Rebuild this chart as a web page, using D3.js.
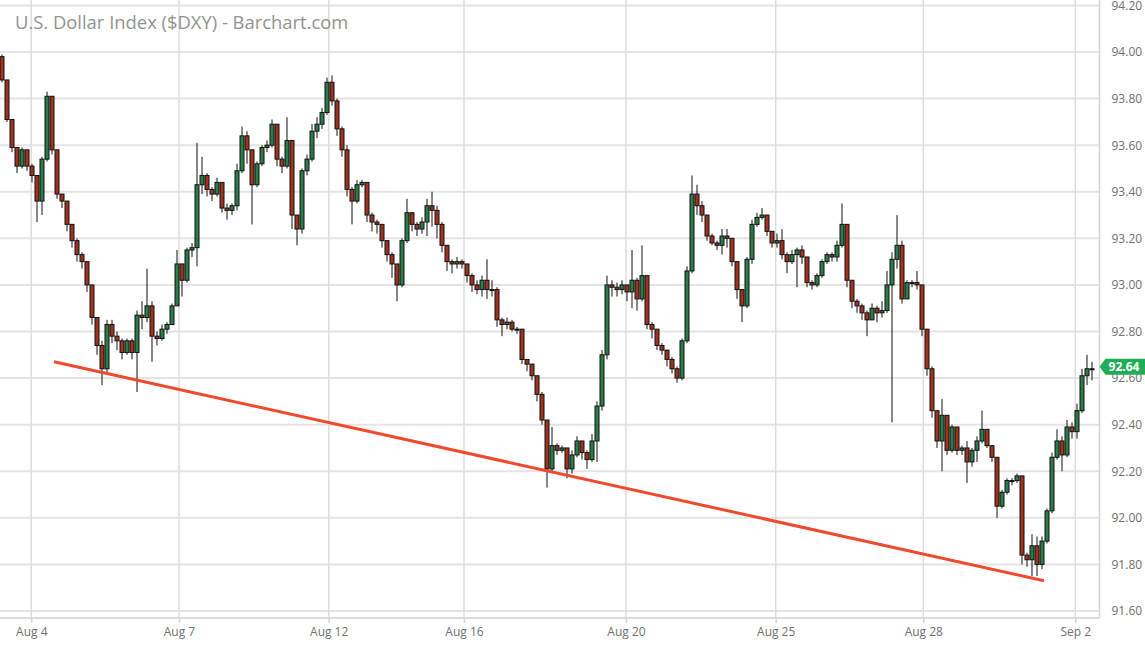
<!DOCTYPE html>
<html><head><meta charset="utf-8">
<script src="https://cdn.jsdelivr.net/npm/d3@7"></script>
<style>body{margin:0;background:#fff}svg{display:block}</style>
</head><body><svg id="c" width="1145" height="645"></svg>
<script>
const title = "U.S. Dollar Index ($DXY) - Barchart.com";
const firstOpen = 93.98;
const closes = [93.88,93.71,93.59,93.51,93.58,93.51,93.47,93.36,93.54,93.81,
93.58,93.39,93.36,93.26,93.19,93.13,93.10,93.00,92.86,92.74,
92.64,92.83,92.78,92.76,92.71,92.76,92.71,92.87,92.86,92.91,
92.78,92.77,92.81,92.83,92.91,93.09,93.02,93.15,93.16,93.43,
93.47,93.41,93.39,93.44,93.33,93.32,93.34,93.49,93.64,93.58,
93.43,93.52,93.59,93.60,93.69,93.54,93.51,93.62,93.30,93.24,
93.49,93.54,93.66,93.69,93.74,93.87,93.79,93.67,93.58,93.41,
93.36,93.43,93.44,93.30,93.27,93.26,93.19,93.13,93.09,93.00,
93.19,93.31,93.26,93.24,93.27,93.34,93.32,93.26,93.17,93.10,
93.09,93.10,93.09,93.04,93.00,92.98,93.02,92.98,92.98,92.85,
92.83,92.84,92.81,92.81,92.68,92.66,92.61,92.53,92.42,92.21,
92.31,92.29,92.30,92.21,92.27,92.33,92.28,92.25,92.33,92.48,
92.70,93.00,92.99,92.98,93.00,92.97,93.02,92.94,93.04,92.83,
92.81,92.74,92.72,92.68,92.64,92.60,92.76,93.06,93.39,93.34,
93.30,93.21,93.18,93.17,93.21,93.20,93.10,92.98,92.91,93.11,
93.26,93.29,93.30,93.23,93.18,93.19,93.13,93.10,93.13,93.15,
93.12,93.01,93.00,93.04,93.10,93.13,93.12,93.17,93.26,93.02,
92.93,92.91,92.88,92.85,92.90,92.88,92.89,93.00,93.11,93.17,
92.94,93.01,93.01,93.00,92.81,92.64,92.46,92.33,92.44,92.29,
92.39,92.29,92.30,92.24,92.29,92.33,92.38,92.31,92.26,92.05,
92.11,92.16,92.16,92.18,91.84,91.82,91.88,91.80,91.90,92.03,
92.26,92.33,92.27,92.39,92.37,92.46,92.61,92.64,92.64];
const highs = [93.99,93.88,93.71,93.57,93.59,93.58,93.52,93.46,93.55,93.83,
93.81,93.56,93.39,93.35,93.26,93.20,93.14,93.10,93.00,92.86,
92.76,92.85,92.85,92.80,92.77,92.77,92.77,92.89,92.93,93.07,
92.93,92.80,92.83,92.84,92.92,93.15,93.09,93.16,93.18,93.61,
93.55,93.48,93.42,93.46,93.44,93.35,93.35,93.52,93.68,93.66,
93.57,93.53,93.60,93.62,93.71,93.69,93.55,93.72,93.62,93.30,
93.50,93.56,93.69,93.72,93.76,93.89,93.90,93.80,93.68,93.60,
93.42,93.45,93.45,93.36,93.31,93.28,93.26,93.19,93.14,93.09,
93.20,93.37,93.31,93.27,93.29,93.37,93.40,93.34,93.27,93.17,
93.11,93.12,93.11,93.09,93.05,93.02,93.04,93.11,93.02,92.99,
92.86,92.86,92.85,92.82,92.81,92.68,92.66,92.61,92.54,92.42,
92.39,92.32,92.31,92.30,92.29,92.35,92.33,92.29,92.36,92.50,
92.72,93.04,93.02,93.01,93.02,93.00,93.15,93.03,93.17,93.04,
92.84,92.81,92.75,92.72,92.69,92.65,92.77,93.08,93.47,93.43,
93.36,93.30,93.22,93.19,93.24,93.24,93.20,93.10,92.98,93.12,
93.28,93.31,93.33,93.30,93.23,93.22,93.24,93.14,93.15,93.16,
93.17,93.12,93.02,93.05,93.11,93.14,93.14,93.19,93.35,93.26,
93.02,92.94,92.92,92.89,92.92,92.91,92.93,93.06,93.14,93.30,
93.19,93.02,93.02,93.06,93.00,92.81,92.65,92.46,92.51,92.44,
92.40,92.39,92.31,92.33,92.30,92.35,92.46,92.38,92.31,92.26,
92.12,92.17,92.17,92.19,92.18,91.85,91.93,91.92,91.92,92.04,
92.28,92.38,92.35,92.42,92.41,92.49,92.64,92.70,92.67];
const lows = [93.87,93.70,93.57,93.48,93.50,93.49,93.44,93.27,93.30,93.53,
93.56,93.37,93.33,93.23,93.16,93.10,93.07,92.97,92.83,92.70,
92.57,92.62,92.75,92.72,92.68,92.70,92.68,92.54,92.81,92.84,
92.67,92.74,92.76,92.79,92.83,92.91,92.95,93.01,93.12,93.08,
93.39,93.38,93.36,93.38,93.31,93.28,93.30,93.32,93.48,93.52,
93.26,93.42,93.51,93.57,93.59,93.51,93.48,93.50,93.24,93.17,
93.22,93.47,93.53,93.63,93.67,93.73,93.77,93.64,93.55,93.38,
93.26,93.35,93.42,93.27,93.23,93.22,93.16,93.10,93.03,92.93,
92.99,93.18,93.23,93.21,93.22,93.21,93.25,93.20,93.14,93.06,
93.05,93.07,93.07,93.01,92.97,92.96,92.95,92.94,92.95,92.82,
92.78,92.81,92.80,92.79,92.66,92.63,92.59,92.50,92.40,92.13,
92.20,92.27,92.28,92.17,92.19,92.26,92.25,92.21,92.24,92.24,
92.46,92.68,92.95,92.95,92.96,92.93,92.90,92.89,92.93,92.81,
92.77,92.72,92.70,92.65,92.62,92.58,92.59,92.75,93.05,93.30,
93.27,93.19,93.17,93.15,93.13,93.16,93.08,92.94,92.84,92.90,
93.09,93.25,93.28,93.21,93.16,93.16,93.11,93.05,93.09,92.99,
93.09,92.99,92.98,92.99,93.03,93.09,93.10,93.10,93.16,92.99,
92.90,92.88,92.85,92.78,92.85,92.84,92.86,92.88,92.41,93.07,
92.92,92.94,92.99,92.98,92.78,92.61,92.43,92.30,92.20,92.27,
92.28,92.27,92.27,92.15,92.22,92.24,92.32,92.30,92.24,92.00,
92.04,92.10,92.14,92.15,91.80,91.79,91.75,91.75,91.78,91.89,
92.02,92.25,92.20,92.26,92.34,92.34,92.45,92.57,92.59];

const yTickValues = [91.60,91.80,92.00,92.20,92.40,92.60,92.80,93.00,93.20,93.40,93.60,93.80,94.00,94.20];
const xTickLabels = ["Aug 4","Aug 7","Aug 12","Aug 16","Aug 20","Aug 25","Aug 28","Sep 2"];
const xTickIndex = [5.86,35.4,65.34,92.4,124.8,154.74,184.26,214.66];
const trendIndex = [10.4, 208.4];
const trendValue = [92.67, 91.73];

const candles = closes.map((c,i)=>{
  const o = i===0 ? firstOpen : closes[i-1];
  return {i, o, c, h: Math.max(highs[i], o, c), l: Math.min(lows[i], o, c)};
});

const svg = d3.select("#c");
const plotRight = 1099.5, axisY = 618;
const x = d3.scaleLinear().domain([0, closes.length-1]).range([2, 1092]);
const y = d3.scaleLinear().domain([91.60, 94.00]).range([611, 52]);
const font = "'Open Sans', 'Noto Sans', sans-serif";

// grid
svg.append("g").selectAll("line").data(yTickValues).join("line")
  .attr("x1",0).attr("x2",plotRight).attr("y1",d=>y(d)).attr("y2",d=>y(d))
  .attr("stroke","#e4e4e4").attr("stroke-width",2);
svg.append("g").selectAll("line").data(xTickIndex).join("line")
  .attr("x1",d=>x(d)).attr("x2",d=>x(d)).attr("y1",0).attr("y2",axisY)
  .attr("stroke","#dcdcdc").attr("stroke-width",1.5);

// title
svg.append("text").attr("x",15).attr("y",29).text(title)
  .attr("font-family",font).attr("font-size",18.4).attr("fill","#929292");

// candles
const cg = svg.append("g");
cg.selectAll("line").data(candles).join("line")
  .attr("x1",d=>x(d.i)).attr("x2",d=>x(d.i))
  .attr("y1",d=>y(d.h)).attr("y2",d=>y(d.l))
  .attr("stroke","#111").attr("stroke-width",1);
cg.selectAll("rect").data(candles).join("rect")
  .attr("x",d=>x(d.i)-2).attr("width",4)
  .attr("y",d=>y(Math.max(d.o,d.c)))
  .attr("height",d=>Math.max(1, Math.abs(y(d.o)-y(d.c))))
  .attr("fill",d=>d.c>=d.o ? "#2a7d4a" : "#9e3320")
  .attr("stroke","#111").attr("stroke-width",1);

// trendline
svg.append("path")
  .datum(trendIndex.map((t,k)=>[t, trendValue[k]]))
  .attr("d", d3.line().x(d=>x(d[0])).y(d=>y(d[1])))
  .attr("stroke","#f0492b").attr("stroke-width",3).attr("fill","none");

// right border and bottom axis
svg.append("line").attr("x1",plotRight).attr("x2",plotRight).attr("y1",0).attr("y2",axisY)
  .attr("stroke","#d4d4d4").attr("stroke-width",1.5);

const yAxis = svg.append("g").attr("transform",`translate(${plotRight},0)`)
  .call(d3.axisRight(y).tickValues(yTickValues).tickFormat(d3.format(".2f")).tickSize(0).tickPadding(12));
yAxis.select(".domain").remove();
yAxis.selectAll("text").attr("font-family",font).attr("font-size",12).attr("fill","#6f6f6f");

const xAxis = svg.append("g").attr("transform",`translate(0,${axisY})`)
  .call(d3.axisBottom(x).tickValues(xTickIndex).tickFormat((d,k)=>xTickLabels[k]).tickSize(5).tickPadding(4));
xAxis.select(".domain").attr("d",`M0,0H${plotRight}`).attr("stroke","#dcdcdc").attr("stroke-width",2);
xAxis.selectAll(".tick line").attr("stroke","#d4d4d4").attr("stroke-width",1.5);
xAxis.selectAll("text").attr("font-family",font).attr("font-size",12).attr("fill","#6f6f6f");

// last price marker
const last = closes[closes.length-1];
const ly = y(last) - 2;
svg.append("path")
  .attr("d",`M${plotRight},${ly} L${plotRight+6},${ly-8} H1145 V${ly+8} H${plotRight+6} Z`)
  .attr("fill","#1fae57");
svg.append("text").attr("x",1124).attr("y",ly).attr("dy","0.35em")
  .attr("text-anchor","middle").text(d3.format(".2f")(last))
  .attr("font-family",font).attr("font-size",12).attr("font-weight","bold").attr("fill","#fff");
</script></body></html>
